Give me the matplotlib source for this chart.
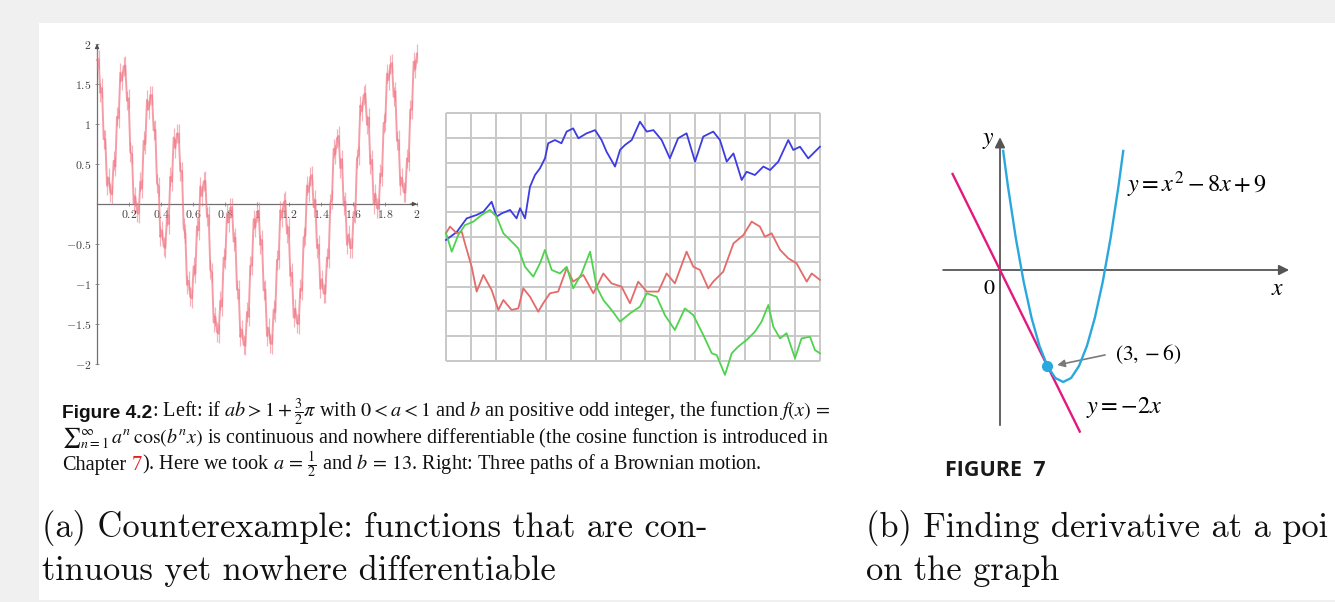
import numpy as np
import matplotlib
matplotlib.use("Agg")
import matplotlib.pyplot as plt
from matplotlib.patches import Rectangle

plt.rcParams['mathtext.fontset'] = 'cm'

# ------------------------------------------------------------------ data
# Left: nowhere-differentiable function (x from 0 to 2)
weier_y = [
    1.80, 1.81, 1.39, 1.45, 0.81, 0.81, 0.23, 0.33,
    0.14, 0.12, 0.54, 0.47, 1.09, 1.07, 1.64, 1.54,
    1.72, 1.73, 1.29, 1.32, 0.65, 0.62, 0.01, 0.09,
    -0.10, -0.12, 0.28, 0.19, 0.79, 0.75, 1.30, 1.18,
    1.36, 1.36, 0.92, 0.93, 0.26, 0.22, -0.41, -0.33,
    -0.53, -0.55, -0.16, -0.25, 0.34, 0.28, 0.83, 0.70,
    0.88, 0.88, 0.41, 0.41, -0.30, -0.37, -1.01, -0.96,
    -1.16, -1.18, -0.78, -0.87, -0.28, -0.33, 0.22, 0.10,
    0.28, 0.29, -0.16, -0.14, -0.82, -0.86, -1.48, -1.41,
    -1.60, -1.62, -1.21, -1.28, -0.67, -0.69, -0.12, -0.23,
    -0.05, -0.04, -0.47, -0.42, -1.07, -1.07, -1.66, -1.57,
    -1.76, -1.77, -1.35, -1.41, -0.77, -0.77, -0.19, -0.29,
    -0.10, -0.09, -0.51, -0.45, -1.08, -1.07, -1.65, -1.55,
    -1.74, -1.75, -1.32, -1.35, -0.70, -0.69, -0.08, -0.17,
    0.02, 0.04, -0.37, -0.29, -0.90, -0.86, -1.42, -1.31,
    -1.49, -1.50, -1.06, -1.08, -0.42, -0.39, 0.23, 0.15,
    0.34, 0.36, -0.04, 0.05, -0.55, -0.51, -1.06, -0.94,
    -1.12, -1.12, -0.67, -0.68, 0.01, 0.06, 0.69, 0.62,
    0.82, 0.85, 0.45, 0.56, -0.02, 0.03, -0.51, -0.38,
    -0.55, -0.55, -0.10, -0.12, 0.57, 0.61, 1.23, 1.16,
    1.36, 1.38, 0.99, 1.08, 0.50, 0.55, 0.00, 0.13,
    -0.05, -0.06, 0.38, 0.35, 1.01, 1.03, 1.63, 1.55,
    1.74, 1.76, 1.34, 1.41, 0.79, 0.80, 0.23, 0.33,
    0.15, 0.14, 0.57, 0.53, 1.18, 1.18, 1.78, 1.69,
    1.88,
]
weier_x = np.linspace(0.0, 2.0, len(weier_y))
weier_xticks = [0.2, 0.4, 0.6, 0.8, 1.0, 1.2, 1.4, 1.6, 1.8, 2.0]
weier_xticklabels = ['$0.2$', '$0.4$', '$0.6$', '$0.8$', '$1$',
                     '$1.2$', '$1.4$', '$1.6$', '$1.8$', '$2$']
weier_yticks = [-2, -1.5, -1, -0.5, 0.5, 1, 1.5, 2]
weier_yticklabels = ['$-2$', '$-1.5$', '$-1$', '$-0.5$', '$0.5$', '$1$', '$1.5$', '$2$']

# Middle: three Brownian paths (grid units: 15 columns x 10 rows)
grid_cols = 15
grid_rows = 10
blue_x = [0, 0.43, 0.83, 1.23, 1.5, 1.83, 2.03, 2.23, 2.57, 2.83, 2.97, 3.17, 3.37, 3.57,
          3.77, 3.97, 4.1, 4.37, 4.63, 4.84, 5.1, 5.31, 5.64, 5.98, 6.24, 6.44, 6.78, 6.98,
          7.18, 7.45, 7.78, 8.05, 8.32, 8.65, 8.98, 9.31, 9.65, 9.99, 10.32, 10.72, 10.99,
          11.26, 11.53, 11.86, 12.06, 12.39, 12.73, 13.0, 13.33, 13.73, 13.93, 14.2, 14.53, 15.0]
blue_y = [4.88, 5.2, 5.75, 5.89, 6.02, 6.42, 5.82, 5.95, 6.09, 5.75, 6.16, 5.75, 7.03, 7.5,
          7.77, 8.17, 8.78, 8.91, 8.78, 9.25, 9.38, 8.98, 9.18, 9.31, 8.91, 8.44, 7.84, 8.51,
          8.71, 8.91, 9.65, 9.25, 9.31, 8.91, 8.17, 8.98, 9.18, 8.04, 9.05, 9.25, 8.91,
          8.04, 8.37, 7.30, 7.63, 7.5, 7.84, 7.70, 8.04, 8.91, 8.51, 8.64, 8.17, 8.64]
red_x = [0, 0.16, 0.43, 0.63, 0.76, 1.03, 1.23, 1.5, 1.83, 2.1, 2.3, 2.63, 2.9, 3.1, 3.37,
         3.7, 3.9, 4.17, 4.5, 4.84, 5.1, 5.51, 5.91, 6.31, 6.64, 7.04, 7.38, 7.71, 8.05, 8.52,
         8.85, 9.18, 9.65, 9.92, 10.19, 10.52, 10.72, 11.12, 11.53, 11.93, 12.26, 12.59,
         12.79, 13.06, 13.4, 13.73, 14.06, 14.47, 14.67, 15.0]
red_y = [5.15, 5.42, 5.15, 5.22, 4.74, 3.80, 2.80, 3.47, 2.86, 2.06, 2.46, 2.06, 2.12, 2.93,
         2.59, 1.99, 2.33, 2.73, 2.80, 3.74, 3.20, 3.47, 2.73, 3.53, 3.13, 3.0, 2.33, 3.2,
         2.80, 2.80, 3.53, 3.13, 4.41, 3.80, 3.67, 2.93, 3.2, 3.6, 4.74, 5.08, 5.62, 5.42,
         5.01, 5.15, 4.48, 4.14, 3.94, 3.2, 3.53, 3.27]
green_x = [0, 0.23, 0.49, 0.76, 1.1, 1.43, 1.76, 2.03, 2.3, 2.57, 2.9, 3.17, 3.5, 3.77, 3.97,
           4.24, 4.57, 4.84, 5.1, 5.44, 5.78, 6.04, 6.31, 6.64, 6.98, 7.38, 7.78, 8.05, 8.45,
           8.78, 9.18, 9.58, 9.92, 10.32, 10.66, 10.86, 11.19, 11.46, 11.72, 12.06, 12.39,
           12.66, 12.93, 13.13, 13.4, 13.66, 14.0, 14.26, 14.6, 14.8, 15.0]
green_y = [5.15, 4.41, 5.08, 5.48, 5.62, 5.89, 6.09, 5.82, 5.15, 4.88, 4.54, 3.80, 3.40, 3.94,
           4.48, 3.67, 3.53, 3.80, 2.93, 3.53, 4.41, 3.0, 2.46, 2.06, 1.59, 1.92, 2.19, 2.73,
           2.59, 1.85, 1.25, 2.12, 1.85, 1.05, 0.31, 0.24, -0.56, 0.31, 0.58, 0.85, 1.18,
           1.59, 2.26, 1.38, 0.91, 1.12, 0.11, 0.91, 0.98, 0.44, 0.31]

# Right: parabola y = x^2 - 8x + 9 and tangent y = -2x at (3, -6)
parab_x = [0.2, 0.5, 1.0, 1.5, 2.0, 2.5, 3.0, 3.5, 4.0, 4.5, 5.0, 5.5, 6.0, 6.5, 7.0, 7.5, 7.8]
parab_y = [7.44, 5.25, 2.0, -0.75, -3.0, -4.75, -6.0, -6.75, -7.0, -6.75, -6.0, -4.75,
           -3.0, -0.75, 2.0, 5.25, 7.44]
tangent_x = [-3.0, 5.05]
tangent_y = [6.0, -10.1]
point_x, point_y = 3, -6

# ------------------------------------------------------------------ figure
W, H = 1335, 602
fig = plt.figure(figsize=(W / 100, H / 100), dpi=100)
fig.patch.set_facecolor('#f0f0f0')
fig.add_artist(Rectangle((39 / W, 2 / H), (W - 39) / W, (600 - 23) / H,
                         transform=fig.transFigure, facecolor='white',
                         edgecolor='none', zorder=-10))


def px_axes(x0, y0, x1, y1):
    return fig.add_axes([x0 / W, 1 - y1 / H, (x1 - x0) / W, (y1 - y0) / H])


def ftext(px, py, s, **kw):
    return fig.text(px / W, 1 - py / H, s, **kw)


# ---- left panel
ax1 = px_axes(60, 35, 430, 375)
ax1.set_facecolor('none')
ax1.set_xlim((60 - 97) / 160, (430 - 97) / 160)
ax1.set_ylim((204 - 375) / 80, (204 - 35) / 80)
for s in ['top', 'right']:
    ax1.spines[s].set_visible(False)
for s in ['left', 'bottom']:
    ax1.spines[s].set_position(('data', 0))
    ax1.spines[s].set_color('#707070')
    ax1.spines[s].set_linewidth(0.9)
ax1.spines['left'].set_bounds(-2, 2)
ax1.spines['bottom'].set_bounds(0, 2)
ax1.set_xticks(weier_xticks)
ax1.set_xticklabels(weier_xticklabels)
ax1.set_yticks(weier_yticks)
ax1.set_yticklabels(weier_yticklabels)
ax1.tick_params(axis='both', direction='inout', length=3, width=0.6, color='#8a8a8a',
                labelsize=8.5, labelcolor='#404040')
ax1.tick_params(axis='x', pad=1.5)
ax1.tick_params(axis='y', pad=2.5)
ax1.annotate('', xy=(2.0, 0), xytext=(1.96, 0),
             arrowprops=dict(arrowstyle='-|>', color='#505050', lw=0.8,
                             mutation_scale=6, shrinkA=0, shrinkB=0))
ax1.annotate('', xy=(0, 2.0), xytext=(0, 1.95),
             arrowprops=dict(arrowstyle='-|>', color='#505050', lw=0.8,
                             mutation_scale=6, shrinkA=0, shrinkB=0))
wy = np.asarray(weier_y)
fuzz = 0.12  # visual half-height of the fine-scale texture
ax1.vlines(weier_x, wy - fuzz, wy + fuzz, color='#f07482', lw=0.9, alpha=0.55, zorder=3)
ax1.plot(weier_x, weier_y, color='#f07482', lw=1.4, alpha=0.7, zorder=3)

# ---- middle panel
ax2 = px_axes(436, 105, 830, 385)
ax2.set_xlim((436 - 446) / 24.93, (830 - 446) / 24.93)
ax2.set_ylim((361 - 385) / 24.8, (361 - 105) / 24.8)
ax2.axis('off')
ax2.vlines(np.arange(grid_cols + 1), 0, grid_rows, color='#c8c8c8', lw=1.4, zorder=1)
ax2.hlines(np.arange(grid_rows + 1), 0, grid_cols, color='#c8c8c8', lw=1.4, zorder=1)
ax2.plot(blue_x, blue_y, color='#3c3ce0', lw=1.3, zorder=3)
ax2.plot(red_x, red_y, color='#e56a6a', lw=1.3, zorder=3)
ax2.plot(green_x, green_y, color='#4fd34f', lw=1.3, zorder=4)

# ---- right panel
ax3 = px_axes(930, 125, 1310, 445)
ax3.set_xlim((930 - 1000) / 15.8, (1310 - 1000) / 15.8)
ax3.set_ylim((270 - 445) / 16, (270 - 125) / 16)
ax3.axis('off')
ax3.annotate('', xy=(18.3, 0), xytext=(-3.6, 0),
             arrowprops=dict(arrowstyle='-|>', color='#555555', lw=1.3,
                             mutation_scale=15, shrinkA=0, shrinkB=0))
ax3.annotate('', xy=(0, 8.3), xytext=(0, -9.7),
             arrowprops=dict(arrowstyle='-|>', color='#555555', lw=1.3,
                             mutation_scale=15, shrinkA=0, shrinkB=0))
ax3.plot(tangent_x, tangent_y, color='#e3197f', lw=1.7, zorder=3)
ax3.plot(parab_x, parab_y, color='#2aa8de', lw=1.7, zorder=4)
ax3.plot([point_x], [point_y], 'o', color='#2aa8de', ms=7, zorder=5)
ax3.annotate('', xy=(3.62, -5.94), xytext=(6.65, -5.31),
             arrowprops=dict(arrowstyle='-|>', color='#7a7a7a', lw=1.2,
                             mutation_scale=11, shrinkA=0, shrinkB=0))

ftext(988, 139, '$y$', math_fontfamily='stix', fontsize=17, ha='center', va='center')
ftext(989, 288, '$0$', math_fontfamily='stix', fontsize=16, ha='center', va='center')
ftext(1278, 288, '$x$', math_fontfamily='stix', fontsize=17, ha='center', va='center')
ftext(1127, 185, r'$y = x^2 - 8x + 9$', math_fontfamily='stix', fontsize=17.5,
      ha='left', va='center')
ftext(1115, 354, r'$(3, -6)$', math_fontfamily='stix', fontsize=15.5,
      ha='left', va='center')
ftext(1086, 407, r'$y = -2x$', math_fontfamily='stix', fontsize=17.5,
      ha='left', va='center')
ftext(945, 470, 'FIGURE  7', family='Open Sans', weight='bold', fontsize=15.5,
      ha='left', va='center', color='#1a1a1a')

# ---- captions
renderer = fig.canvas.get_renderer()
serif = dict(family='Liberation Serif', math_fontfamily='stix', color='#111111')
bold_sans = dict(family='Liberation Sans', weight='bold', color='#111111')


def fit_size(s, target_w, kw, base=12.0):
    t = ftext(0, 0, s, fontsize=base, **kw)
    w = t.get_window_extent(renderer).width
    t.remove()
    return base * target_w / w


def wid(s, size, kw):
    t = ftext(0, 0, s, fontsize=size, **kw)
    w = t.get_window_extent(renderer).width
    t.remove()
    return w


rest1 = (r': Left: if $ab > 1+\frac{3}{2}\pi$ with $0 < a < 1$ and $b$ an positive odd '
         r'integer, the function $f(x)\, =$')
cap_fs = fit_size(rest1, 830 - 140, serif)
fig_fs = cap_fs * 0.93
ftext(62, 418, 'Figure 4.2', fontsize=fig_fs, va='baseline', **bold_sans)
x1 = 62 + wid('Figure 4.2', fig_fs, bold_sans)
cap_fs = fit_size(rest1, 830 - x1, serif)
ftext(x1, 418, rest1, fontsize=cap_fs, va='baseline', **serif)

line2 = (r'${\sum}_{n=1}^{\infty}\,a^n\,\cos(b^n x)$ is continuous and nowhere '
         r'differentiable (the cosine function is introduced in')
ftext(62, 444, line2, fontsize=fit_size(line2, 830 - 62, serif), va='baseline', **serif)

# line 3 (chapter number in red)
x3 = 62
ftext(x3, 470, 'Chapter', fontsize=cap_fs, va='baseline', **serif)
x7 = x3 + wid('Chapter 7', cap_fs, serif) - wid('7', cap_fs, serif)
ftext(x7, 470, '7', fontsize=cap_fs, va='baseline', family='Liberation Serif',
      color='#e02020')
xr = x3 + wid('Chapter 7)', cap_fs, serif) - wid(')', cap_fs, serif)
ftext(xr, 470, r'). Here we took $a\, =\, \frac{1}{2}$ and $b\, =\, 13$. Right: Three paths '
      r'of a Brownian motion.', fontsize=cap_fs, va='baseline', **serif)

# ---- sub-captions
cm = dict(family='cmr10', color='#111111')
sub_fs = fit_size('(a) Counterexample: functions that are con-', 708 - 42, cm, base=20)
ftext(42, 537, '(a) Counterexample: functions that are con-', fontsize=sub_fs,
      va='baseline', **cm)
ftext(42, 580, 'tinuous yet nowhere differentiable', fontsize=sub_fs, va='baseline', **cm)
ftext(866, 537, '(b) Finding derivative at a poi', fontsize=sub_fs, va='baseline', **cm)
ftext(866, 580, 'on the graph', fontsize=sub_fs, va='baseline', **cm)

fig.savefig('out.png', dpi=100, facecolor=fig.get_facecolor())
